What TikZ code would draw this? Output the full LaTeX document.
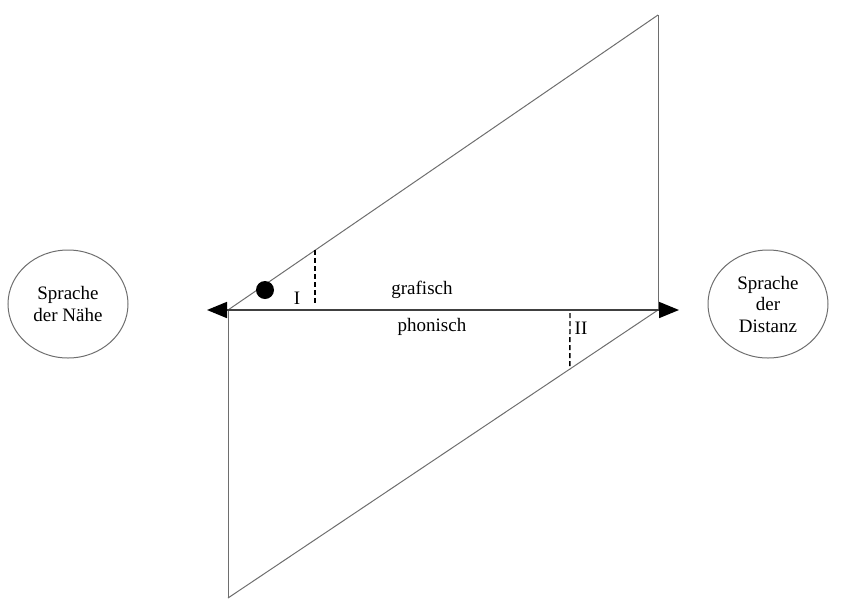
\documentclass[tikz,border=0pt]{standalone}
\usepackage{fontspec}
\setmainfont{Liberation Serif}
\usetikzlibrary{positioning,calc}
\usetikzlibrary{arrows.meta,shapes.geometric}
\definecolor{LineGray}{RGB}{110,110,110}
\definecolor{RimGray}{RGB}{110,110,110}
\tikzset{
	side/.style={ellipse,draw=RimGray,line width=1pt,minimum width=120pt,minimum height=108pt,
		align=center,inner sep=0pt},
	leg/.style={draw=LineGray,line width=1pt},
	axis/.style={draw=black!75,line width=1.6pt,
		{Triangle[length=20pt,width=16pt,color=black]}-{Triangle[length=20pt,width=16pt,color=black]}},
	mark dash/.style={draw=black,line width=1.4pt,dash pattern=on 5pt off 3pt},
	tag/.style={inner sep=0pt},
}

\begin{document}
\begin{tikzpicture}[x=1pt,y=-1pt,font=\fontsize{19}{21.5}\selectfont]
					\useasboundingbox (0,0) rectangle (852,598);
					\coordinate (A) at (228,310);
					\coordinate (B) at (658,310);
					\coordinate (C) at (658,15);
					\coordinate (D) at (228,598);
					\coordinate (Lt) at (207,310);
					\coordinate (Rt) at (679,310);
					% triangles above and below
					\foreach \x/\y in {A/C,C/B,A/D,D/B}
					\draw[leg] (\x)--(\y);
					\draw[axis] (Lt)--(Rt);
					% dashed marks
					\coordinate (i1) at ($(A)!0.2023!(C)$);
					\coordinate (i2) at (i1 |- 0,305);
					\coordinate (j1) at (570,313);
					\coordinate (j2) at ($(D)!0.795!(B)$);
					\draw[mark dash] (i1)--(i2);
					\draw[mark dash] (j1)--(j2);
					\node[circle,fill=black,minimum size=18pt,inner sep=0pt] (dot) at (265,290) {};
					\node[tag] (one) at (297,298) {I};
					\node[tag] (two) at (581,328) {II};
					\node[tag] (graf) at (422,290) {grafisch};
					\node[tag] (phon) at (432,327) {phonisch};
					\node[side] (near) at (68,304) {Sprache\\der Nähe};
					\node[side] (far) at (768,304) {Sprache\\der\\Distanz};
				\end{tikzpicture}
\end{document}
